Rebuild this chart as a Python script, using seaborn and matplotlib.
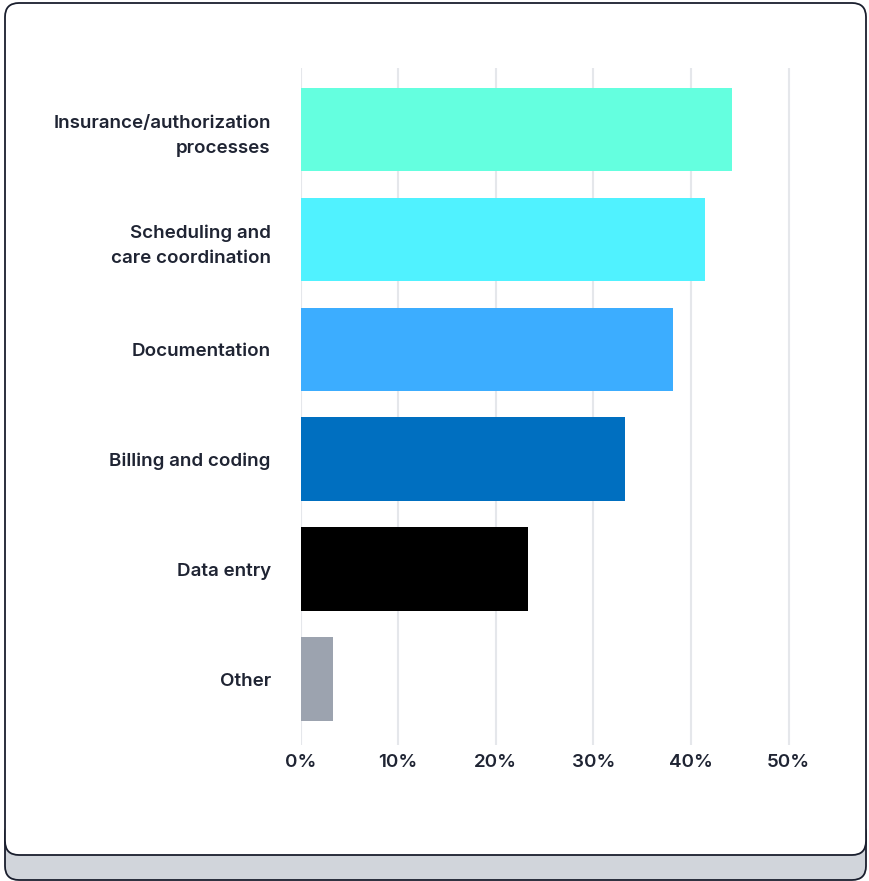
import matplotlib
matplotlib.use("Agg")
import matplotlib.pyplot as plt
import matplotlib.transforms as mtransforms
from matplotlib.patches import FancyBboxPatch
from matplotlib.ticker import FuncFormatter
import pandas as pd
import seaborn as sns

categories = [
    "Insurance/authorization\nprocesses",
    "Scheduling and\ncare coordination",
    "Documentation",
    "Billing and coding",
    "Data entry",
    "Other",
]
shares = [44.2, 41.4, 38.2, 33.2, 23.3, 3.3]
bar_colors = ["#64FFDF", "#50F2FF", "#3CADFF", "#006FC0", "#000000", "#9CA3AF"]
x_ticks = [0, 10, 20, 30, 40, 50]

sns.set_theme(style="white")
plt.rcParams["font.family"] = ["Inter", "DejaVu Sans"]

W, H, DPI = 869, 881, 100
fig = plt.figure(figsize=(W / DPI, H / DPI), dpi=DPI)
fig.patch.set_facecolor("white")

# card shadow and card body, in pixel coordinates
ident = mtransforms.IdentityTransform()
shadow = FancyBboxPatch((5, 1), 861, 60, boxstyle="round,pad=0,rounding_size=14",
                        transform=ident, facecolor="#D1D5DB", edgecolor="#1A1F2E",
                        linewidth=1.3, zorder=0)
card = FancyBboxPatch((5, 26), 861, 852, boxstyle="round,pad=0,rounding_size=14",
                      transform=ident, facecolor="white", edgecolor="#1A1F2E",
                      linewidth=1.3, zorder=1)
fig.patches.extend([shadow, card])

left, right = 300.5, 300.5 + 97.6 * 5.1
top, bottom = 68, 745
ax = fig.add_axes([left / W, 1 - bottom / H, (right - left) / W, (bottom - top) / H])
ax.set_facecolor("none")
ax.set_zorder(2)

df = pd.DataFrame({"category": categories, "share": shares})
sns.barplot(data=df, x="share", y="category", hue="category", palette=bar_colors,
            orient="h", width=0.76, legend=False, ax=ax, saturation=1, zorder=3,
            linewidth=0)

ax.set_xlim(0, 51)
ax.set_ylim(5.6, -0.56)
ax.set_xticks(x_ticks)
ax.xaxis.set_major_formatter(FuncFormatter(lambda v, _: f"{v:.0f}%"))
ax.grid(axis="x", color="#E5E7EB", linewidth=1.5)
ax.set_axisbelow(True)
for s in ax.spines.values():
    s.set_visible(False)
ax.set_xlabel("")
ax.set_ylabel("")
ax.tick_params(axis="both", length=0, labelsize=13.5, labelcolor="#1F2433")
ax.tick_params(axis="y", pad=21.5)
ax.tick_params(axis="x", pad=6.5)
for lab in ax.get_yticklabels() + ax.get_xticklabels():
    lab.set_fontweight("semibold")
for lab in ax.get_yticklabels():
    lab.set_horizontalalignment("right")
    lab.set_multialignment("right")
    lab.set_linespacing(1.65)

fig.savefig("out.png", dpi=DPI, facecolor="white")
